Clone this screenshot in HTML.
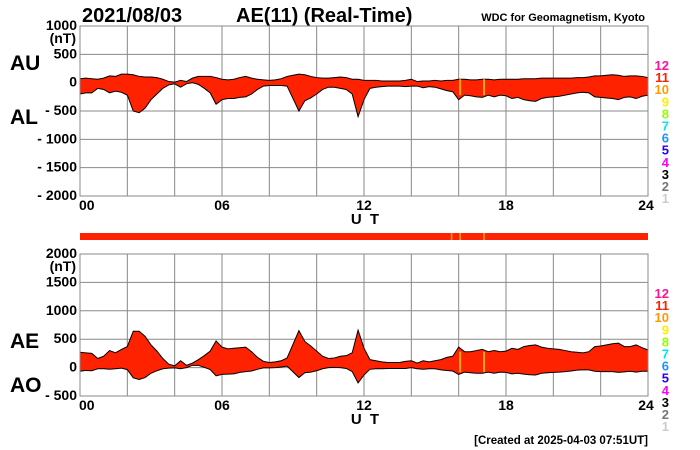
<!DOCTYPE html>
<html><head><meta charset="utf-8"><style>
body{margin:0;background:#fff;}
svg{display:block;font-family:"Liberation Sans",Arial,sans-serif;}
.t{font-weight:bold;font-size:14px;fill:#000}
</style></head><body>
<svg id="c" width="700" height="450" viewBox="0 0 700 450">
<text x="82" y="22" font-size="20" font-weight="bold">2021/08/03</text>
<text x="236" y="22" font-size="20" font-weight="bold">AE(11) (Real-Time)</text>
<text x="645" y="21" font-size="11" font-weight="bold" text-anchor="end">WDC for Geomagnetism, Kyoto</text>
<text x="10" y="70" font-size="21" font-weight="bold">AU</text>
<text x="10" y="124" font-size="21" font-weight="bold">AL</text>
<text x="10" y="348" font-size="21" font-weight="bold">AE</text>
<text x="10" y="392" font-size="21" font-weight="bold">AO</text>
<text x="648" y="444" font-size="11.5" font-weight="bold" text-anchor="end">[Created at 2025-04-03 07:51UT]</text>
</svg>
<script>
const hours=[0,0.25,0.5,0.75,1,1.25,1.5,1.75,2,2.25,2.5,2.75,3,3.25,3.5,3.75,4,4.25,4.5,4.75,5,5.25,5.5,5.75,6,6.25,6.5,6.75,7,7.25,7.5,7.75,8,8.25,8.5,8.75,9,9.25,9.5,9.75,10,10.25,10.5,10.75,11,11.25,11.5,11.75,12,12.25,12.5,12.75,13,13.25,13.5,13.75,14,14.25,14.5,14.75,15,15.25,15.5,15.75,16,16.25,16.5,16.75,17,17.25,17.5,17.75,18,18.25,18.5,18.75,19,19.25,19.5,19.75,20,20.25,20.5,20.75,21,21.25,21.5,21.75,22,22.25,22.5,22.75,23,23.25,23.5,23.75,24];
const auValues=[70,80,70,60,80,120,110,150,150,140,110,100,100,90,60,20,10,40,20,80,110,110,110,90,60,50,60,90,110,80,60,50,40,50,70,110,130,150,140,110,90,80,80,90,100,90,60,60,40,40,40,30,30,30,30,40,60,20,30,30,40,30,40,40,60,60,50,50,60,60,50,60,60,60,60,70,70,70,80,80,80,80,80,80,90,90,100,120,120,130,140,130,110,120,120,110,90];
const alValues=[-200,-180,-180,-100,-120,-180,-150,-170,-220,-500,-530,-450,-300,-200,-100,-40,-20,-80,-20,0,-30,-100,-180,-380,-300,-280,-280,-260,-250,-200,-120,-60,-50,-50,-50,-60,-280,-500,-320,-270,-200,-120,-80,-80,-100,-120,-200,-600,-300,-100,-80,-70,-60,-60,-60,-70,-60,-60,-90,-70,-80,-110,-140,-160,-300,-220,-230,-250,-260,-220,-250,-220,-230,-280,-260,-300,-320,-330,-280,-260,-250,-240,-220,-200,-180,-170,-180,-250,-260,-270,-280,-300,-260,-250,-280,-240,-220];
const missingHours=[15.7,16.06,17.07];
const topTicks=["1000","500","0","- 500","- 1000","- 1500","- 2000"];
const topTickVals=[1000,500,0,-500,-1000,-1500,-2000];
const botTicks=["2000","1500","1000","500","0","- 500"];
const botTickVals=[2000,1500,1000,500,0,-500];
const hourLabels=["00","06","12","18","24"];
const hourLabelVals=[0,6,12,18,24];
const legendNums=["12","11","10","9","8","7","6","5","4","3","2","1"];
const legendColors=["#ff1493","#ff2000","#ff9900","#ffee00","#99ff00","#00e5e5","#1e90ff","#2200ff","#ff00ff","#000000","#777777","#cccccc"];

const NS="http://www.w3.org/2000/svg";
const svg=document.getElementById('c');
const X0=80,X1=648;
const xs=h=>X0+(X1-X0)*h/24;
const P1={top:26,bot:196,max:1000,min:-2000};
const P2={top:254,bot:396,max:2000,min:-500};
const ys=(p,v)=>p.top+(p.max-v)/(p.max-p.min)*(p.bot-p.top);
function mk(tag,attrs,parent){const e=document.createElementNS(NS,tag);for(const k in attrs)e.setAttribute(k,attrs[k]);(parent||svg).appendChild(e);return e;}

function panel(p,upper,lower,ticks,tickVals,nm){
  const g=mk('g',{});
  
  
  for(let i=0;i<=12;i++){const l=mk('line',{x1:xs(i*2),x2:xs(i*2),y1:p.top,y2:p.bot,stroke:'#888','stroke-width':1},g);
    }
  tickVals.forEach((v,i)=>{const y=ys(p,v);
    const l=mk('line',{x1:X0,x2:X1,y1:y,y2:y,stroke:'#888','stroke-width':1},g);
    
    const t=mk('text',{x:77,y:y+4,'text-anchor':'end',class:'t'},g);t.textContent=ticks[i];
    
  });
  const nt=mk('text',{x:76,y:ys(p,tickVals[0])+17,'text-anchor':'end',class:'t','font-size':12},g);nt.textContent='(nT)';
  
  let up=hours.map((h,i)=>xs(h)+','+ys(p,upper[i]));
  let lo=hours.map((h,i)=>xs(h)+','+ys(p,lower[i])).reverse();
  const f=mk('polygon',{points:up.concat(lo).join(' '),fill:'#ff2200'},g);
  
  const a=mk('polyline',{points:up.join(' '),fill:'none',stroke:'#000','stroke-width':1},g);
  
  const b=mk('polyline',{points:lo.join(' '),fill:'none',stroke:'#000','stroke-width':1},g);
  
  missingHours.slice(1).forEach(h=>{
    const iu=hours.findIndex(x=>x>=h);
    const m=mk('line',{x1:xs(h),x2:xs(h),y1:ys(p,upper[iu]),y2:ys(p,lower[iu]),stroke:'#ffaa00','stroke-width':2},g);
    
  });
  const r=mk('rect',{x:X0,y:p.top,width:X1-X0,height:p.bot-p.top,fill:'none',stroke:'#888'},g);
  
  hourLabelVals.forEach((h,i)=>{const t=mk('text',{x:xs(h)+(i==0?-1:(i==4?-2:0)),y:p.bot+14,'text-anchor':i==0?'start':'middle',class:'t','font-size':13},g);
    t.textContent=hourLabels[i];});
  const ut=mk('text',{x:xs(12)+2,y:p.bot+28,'text-anchor':'middle','font-size':15,'font-weight':'bold','letter-spacing':'2'},g);ut.textContent='U T';
  
  legendNums.forEach((n,i)=>{const t=mk('text',{x:669,y:p.top+44+i*12.1,'text-anchor':'end','font-size':13,'font-weight':'bold',fill:legendColors[i]},g);
    t.textContent=n;});
}
panel(P1,auValues,alValues,topTicks,topTickVals,'au-al');
const aeValues=auValues.map((u,i)=>u-alValues[i]);
const aoValues=auValues.map((u,i)=>(u+alValues[i])/2);
panel(P2,aeValues,aoValues,botTicks,botTickVals,'ae-ao');
const bar=mk('rect',{x:X0,y:233,width:X1-X0,height:7,fill:'#ff2200'});


missingHours.forEach(h=>{const l=mk('line',{x1:xs(h),x2:xs(h),y1:233,y2:240,stroke:'#ffaa00','stroke-width':1.5});
  
  });
</script>
</body></html>
